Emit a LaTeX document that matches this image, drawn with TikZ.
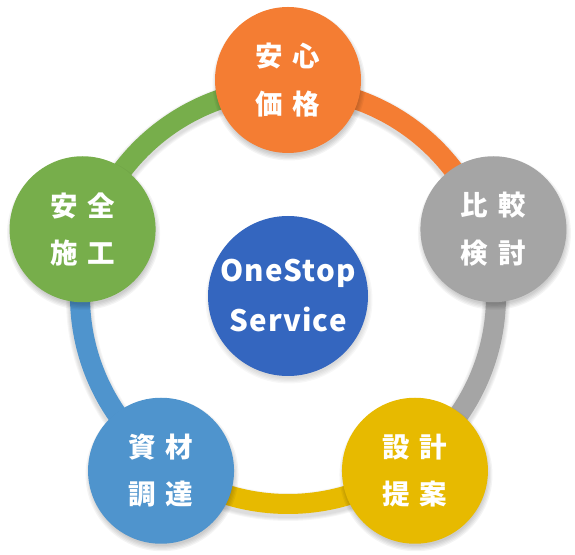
\documentclass[tikz,border=0pt]{standalone}
\usepackage{fontspec}
\setmainfont{Noto Sans CJK JP}
\newfontfamily\latinsp[LetterSpace=4]{Noto Sans CJK JP}
\usetikzlibrary{calc}
\definecolor{cOrange}{HTML}{F47D33}
\definecolor{cGray}{HTML}{A5A5A5}
\definecolor{cYellow}{HTML}{E7BA00}
\definecolor{cLight}{HTML}{4F94CD}
\definecolor{cGreen}{HTML}{77AE4B}
\definecolor{cHub}{HTML}{3466BF}
\begin{document}
\begin{tikzpicture}[x=1pt,y=1pt,
  band/.style={line width=20pt},
  bandshadow/.style={black, opacity=0.035},
  bubble/.style={circle, minimum size=146pt, inner sep=0pt, text=white,
    font=\bfseries\fontsize{27.5}{47.5}\selectfont, align=center},
  hub/.style={circle, minimum size=160pt, inner sep=0pt, text=white, fill=cHub,
    font=\latinsp\bfseries\fontsize{29.5}{50}\selectfont, align=center}]
\useasboundingbox (0,0) rectangle (575,554);
\coordinate (O) at (288,258);
\coordinate (pT) at ($(O)+(90:216)$);
\coordinate (pR) at ($(O)+(18:216)$);
\coordinate (pBR) at ($(O)+(-54:216)$);
\coordinate (pBL) at ($(O)+(-126:216)$);
\coordinate (pL) at ($(O)+(162:216)$);
% band shadows
\foreach \k in {1,...,4}{
  \draw[bandshadow, line width={20+2*\k}] ($(O)+(0,-3)+(90:208)$) arc[start angle=90, end angle=-270, radius=208];
}
% ring bands
\draw[band, cOrange] ($(O)+(90:208)$) arc[start angle=90, end angle=18, radius=208];
\draw[band, cGray] ($(O)+(18:208)$) arc[start angle=18, end angle=-54, radius=208];
\draw[band, cYellow] ($(O)+(-54:208)$) arc[start angle=-54, end angle=-126, radius=208];
\draw[band, cLight] ($(O)+(-126:208)$) arc[start angle=-126, end angle=-198, radius=208];
\draw[band, cGreen] ($(O)+(162:208)$) arc[start angle=162, end angle=90, radius=208];
% circle shadows
\foreach \p in {pT,pR,pBR,pBL,pL}{
  \foreach \k in {1,...,5}{
    \fill[black, opacity=0.045] ($(\p)+(1,-4)$) circle ({70+1.3*\k});
  }
}
\foreach \k in {1,...,5}{
  \fill[black, opacity=0.03] ($(O)+(1,-4)$) circle ({77+1.3*\k});
}
% nodes
\node[bubble, fill=cOrange] (anshin) at (pT) {安\kern0.36em心\\価\kern0.36em格};
\node[bubble, fill=cGray] (hikaku) at (pR) {比\kern0.36em較\\検\kern0.36em討};
\node[bubble, fill=cYellow] (sekkei) at (pBR) {設\kern0.36em計\\提\kern0.36em案};
\node[bubble, fill=cLight] (shizai) at (pBL) {資\kern0.36em材\\調\kern0.36em達};
\node[bubble, fill=cGreen] (anzen) at (pL) {安\kern0.36em全\\施\kern0.36em工};
\node[hub] (hubnode) at (O) {OneStop\\Service};
\end{tikzpicture}
\end{document}
